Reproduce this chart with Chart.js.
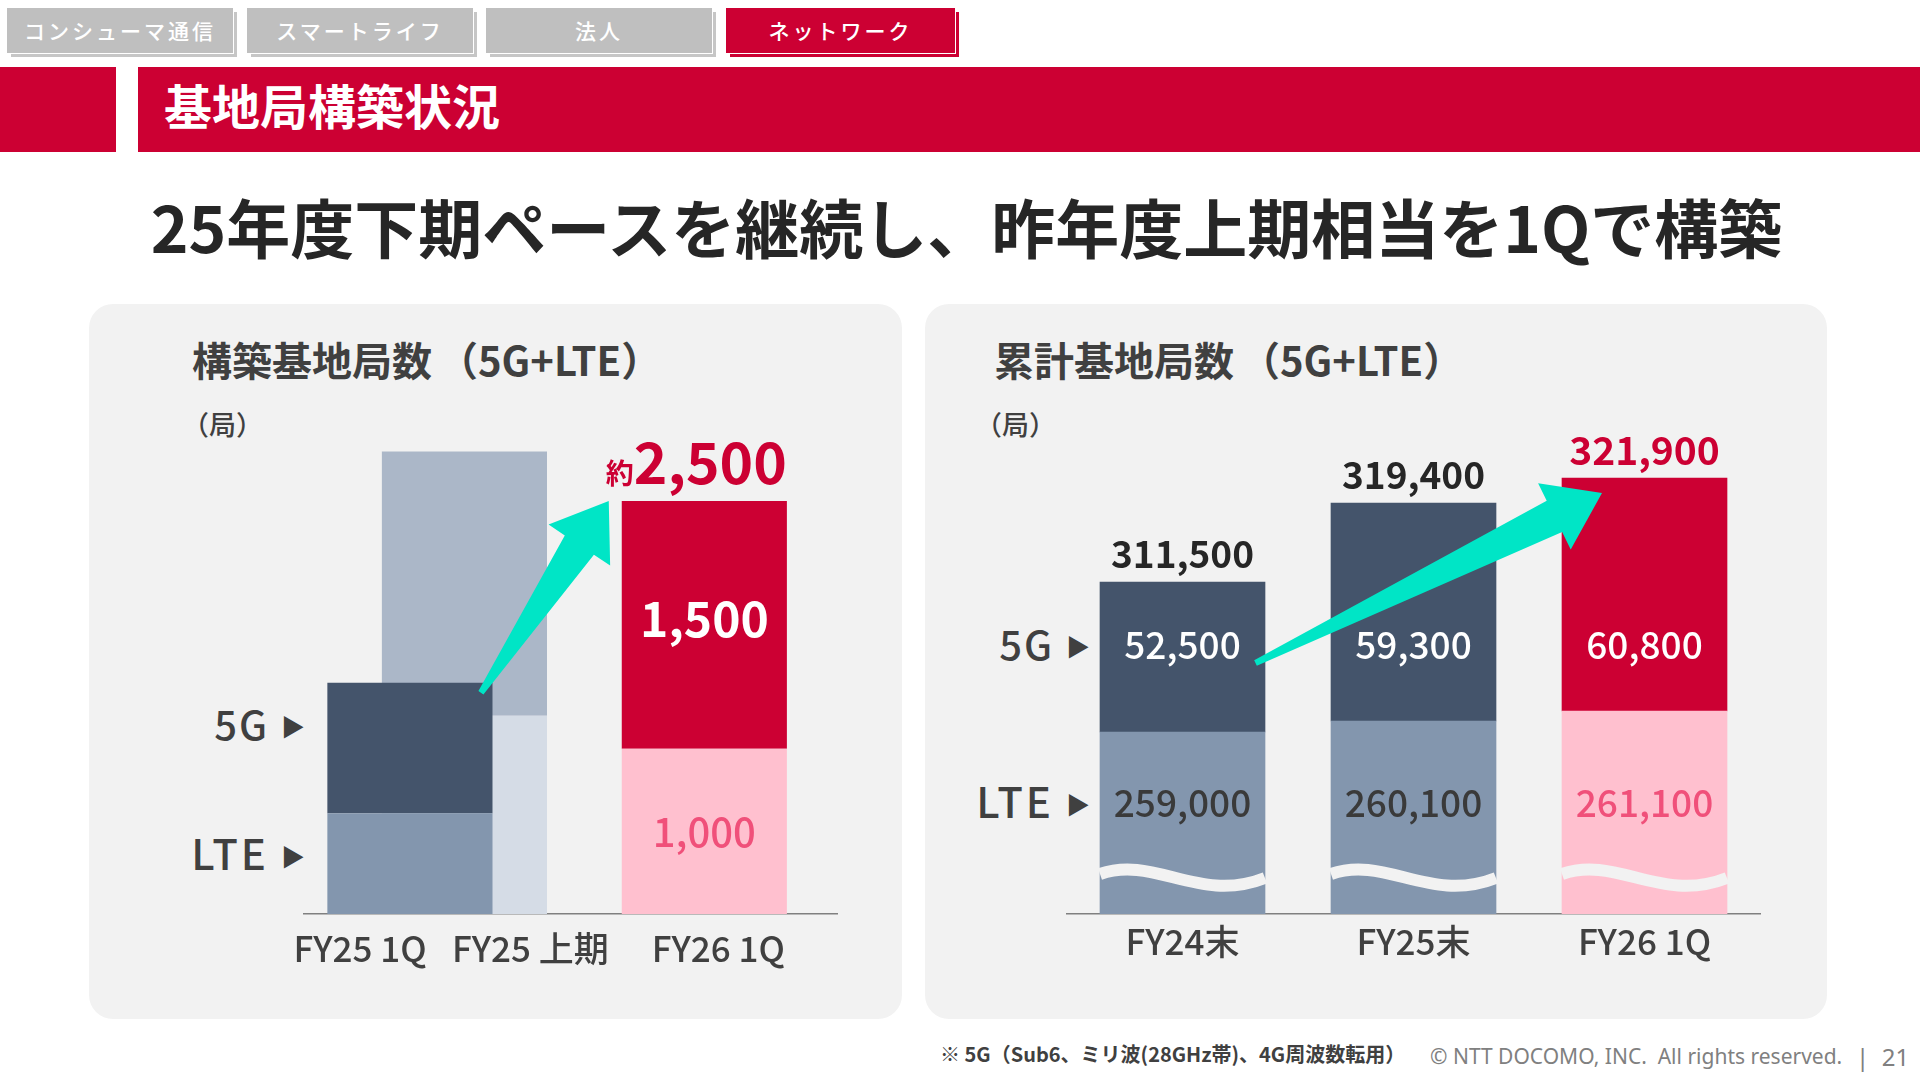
<!DOCTYPE html>
<html><head><meta charset="utf-8">
<script src="https://cdn.jsdelivr.net/npm/chart.js@4.4.1/dist/chart.umd.min.js"></script>
<style>
html,body{margin:0;padding:0;background:#fff;}
body{width:1920px;height:1080px;position:relative;overflow:hidden;font-family:"Noto Sans CJK JP","Noto Sans",sans-serif;}
.t{position:absolute;white-space:nowrap;line-height:1;}
.tab{position:absolute;top:8px;height:45px;width:226px;background:#bfbfbf;color:#fff;font-size:21px;letter-spacing:3px;text-align:center;line-height:45px;box-shadow:1px 1px 0 #fff,4px 4px 0 #c6c6c6;font-weight:500;}
.tab.on{background:#cc0033;box-shadow:1px 1px 0 #fff,4px 4px 0 #cc0033;width:229px;}
.red{position:absolute;background:#cc0033;}
.panel{position:absolute;background:#f2f2f2;border-radius:24px;}
.chartbox{position:absolute;}
.lab{position:absolute;white-space:nowrap;line-height:1;color:#404040;font-weight:500;text-align:right;font-size:40px;}
.lab .g{letter-spacing:2px;}
.lab .l{letter-spacing:3px;font-size:42px;}
.lab .tri{font-size:24px;margin-left:12px;position:relative;top:-4px;letter-spacing:0;}
</style>
</head><body>
<div class="tab" style="left:7px">コンシューマ通信</div>
<div class="tab" style="left:247px">スマートライフ</div>
<div class="tab" style="left:486px">法人</div>
<div class="tab on" style="left:726px">ネットワーク</div>

<div class="red" style="left:0;top:67px;width:116px;height:85px"></div>
<div class="red" style="left:138px;top:67px;width:1782px;height:85px"></div>
<div class="t" style="left:164px;top:80px;font-size:48px;font-weight:700;color:#fff">基地局構築状況</div>

<div class="t" style="left:0;width:1933px;text-align:center;top:193px;font-size:64px;font-weight:700;color:#262626">25年度下期ペースを継続し、昨年度上期相当を1Qで構築</div>

<div class="panel" style="left:89px;top:304px;width:813px;height:715px"></div>
<div class="panel" style="left:925px;top:304px;width:902px;height:715px"></div>

<div class="t" style="left:192px;top:339px;font-size:40px;font-weight:700;color:#404040">構築基地局数<span style="margin-left:6px">（5G+LTE）</span></div>
<div class="t" style="left:994px;top:339px;font-size:40px;font-weight:700;color:#404040">累計基地局数<span style="margin-left:6px">（5G+LTE）</span></div>
<div class="t" style="left:182px;top:410px;font-size:27px;font-weight:500;color:#404040">（局）</div>
<div class="t" style="left:975px;top:410px;font-size:27px;font-weight:500;color:#404040">（局）</div>

<div class="lab" style="right:1615px;top:703px"><span class="g">5G</span><span class="tri">▶</span></div>
<div class="lab" style="right:1615px;top:831px"><span class="l">LTE</span><span class="tri">▶</span></div>
<div class="lab" style="right:830px;top:623px"><span class="g">5G</span><span class="tri">▶</span></div>
<div class="lab" style="right:830px;top:779px"><span class="l">LTE</span><span class="tri">▶</span></div>

<div class="chartbox" style="left:89px;top:304px;width:813px;height:715px"><canvas id="c1"></canvas></div>
<div class="chartbox" style="left:925px;top:304px;width:902px;height:715px"><canvas id="c2"></canvas></div>

<div class="t" style="left:940px;top:1044px;font-size:20px;font-weight:700;color:#404040">※ 5G（Sub6、ミリ波(28GHz帯)、4G周波数転用）</div>
<div class="t" style="left:1430px;top:1046px;font-size:21px;color:#808080;font-family:'Noto Sans',sans-serif">© NTT DOCOMO, INC.&nbsp; All rights reserved.</div>
<div class="t" style="left:1856px;top:1045px;font-size:24px;color:#808080;font-family:'Noto Sans',sans-serif">|&nbsp; 21</div>

<script>
// ---------- data ----------
const leftCategories = ['FY25 1Q', 'FY25 上期', 'FY26 1Q'];
const leftLTE = [610, 1200, 1000];
const left5G = [790, 1600, 1500];

const rightCategories = ['FY24末', 'FY25末', 'FY26 1Q'];
const rightLTE = [259000, 260100, 261100];
const right5G = [52500, 59300, 60800];
const rightTotal = [311500, 319400, 321900];

// axis-break offsets used by the (broken-axis) cumulative chart
const LTE_AXIS_BREAK = 240800;
const G5_AXIS_BREAK = 37500;

const FONT = '"Noto Sans CJK JP"';
Chart.defaults.font.family = FONT;
const fmt = v => v.toLocaleString('en-US');
const TEAL = '#00e5c6';

function drawArrow(ctx, tx, ty, px, py) {
  const dx = px - tx, dy = py - ty, len = Math.hypot(dx, dy);
  const ux = dx / len, uy = dy / len, nx = -uy, ny = ux;
  const HL = 53, HW = 37, SW = 17.5, TW = 3;
  const bx = px - ux * HL, by = py - uy * HL;
  ctx.save();
  ctx.fillStyle = TEAL;
  ctx.beginPath();
  ctx.moveTo(tx + nx * TW, ty + ny * TW);
  ctx.lineTo(bx + nx * SW, by + ny * SW);
  ctx.lineTo(bx + nx * HW, by + ny * HW);
  ctx.lineTo(px, py);
  ctx.lineTo(bx - nx * HW, by - ny * HW);
  ctx.lineTo(bx - nx * SW, by - ny * SW);
  ctx.lineTo(tx - nx * TW, ty - ny * TW);
  ctx.closePath();
  ctx.fill();
  ctx.restore();
}

// ---------- left chart: 構築基地局数 ----------
const leftAxisLabels = [leftCategories[0] + '\u2002 ' + leftCategories[1], leftCategories[2]];
const GP = 0.408, BP_PAIR = 3.03, BP_ONE = 1.515;
function leftDs(label, data, color, stack, bp) {
  return { label, data, backgroundColor: color, stack, skipNull: true,
           categoryPercentage: GP, barPercentage: bp, borderWidth: 0 };
}
const leftDatasets = [
  leftDs('FY25 1Q LTE', [leftLTE[0], null], '#8396ae', 'q1', BP_PAIR),
  leftDs('FY25 1Q 5G', [left5G[0], null], '#44546b', 'q1', BP_PAIR),
  leftDs('FY25 上期 LTE', [leftLTE[1], null], '#d5dce6', 'h1', BP_PAIR),
  leftDs('FY25 上期 5G', [left5G[1], null], '#abb7c8', 'h1', BP_PAIR),
  leftDs('FY26 1Q LTE', [null, leftLTE[2]], '#ffc0cf', 'fy26', BP_ONE),
  leftDs('FY26 1Q 5G', [null, left5G[2]], '#cc0033', 'fy26', BP_ONE)
];

const leftDecor = {
  id: 'leftDecor',
  afterDatasetsDraw(chart) {
    const ctx = chart.ctx;
    const q15 = chart.getDatasetMeta(1).data[0];
    const f26L = chart.getDatasetMeta(4).data[1];
    const f265 = chart.getDatasetMeta(5).data[1];
    drawArrow(ctx, q15.x + 71, q15.y + 10, f265.x - f265.width / 2 - 13, f265.y);
    ctx.save();
    ctx.textAlign = 'center';
    ctx.textBaseline = 'middle';
    ctx.fillStyle = '#ffffff';
    ctx.font = `700 48px ${FONT}`;
    ctx.fillText(fmt(left5G[2]), f265.x, (f265.y + f265.base) / 2 - 6);
    ctx.fillStyle = '#f0507a';
    ctx.font = `500 40px ${FONT}`;
    ctx.fillText(fmt(leftLTE[2]), f26L.x, (f26L.y + f26L.base) / 2);
    // total
    const total = leftLTE[2] + left5G[2];
    ctx.textAlign = 'left';
    ctx.textBaseline = 'alphabetic';
    ctx.font = `700 28px ${FONT}`;
    const w1 = ctx.measureText('約').width;
    ctx.font = `700 57px ${FONT}`;
    const w2 = ctx.measureText(fmt(total)).width;
    const sx = f265.x - (w1 + w2) / 2 - 8;
    const by = f265.y - 17;
    ctx.fillStyle = '#cc0033';
    ctx.font = `700 28px ${FONT}`;
    ctx.fillText('約', sx, by);
    ctx.font = `700 57px ${FONT}`;
    ctx.fillText(fmt(total), sx + w1, by);
    ctx.restore();
  }
};

new Chart(document.getElementById('c1'), {
  type: 'bar',
  data: { labels: leftAxisLabels, datasets: leftDatasets },
  plugins: [leftDecor],
  options: {
    responsive: true, maintainAspectRatio: false, animation: false,
    layout: { padding: { left: 214.6, right: 64.1, top: 114.4, bottom: 45 } },
    plugins: { legend: { display: false }, tooltip: { enabled: false } },
    scales: {
      x: {
        stacked: true, offset: true,
        grid: { display: false, drawTicks: false },
        border: { display: true, color: '#808080', width: 1.5 },
        ticks: { color: '#404040', font: { size: 35, weight: 500 }, padding: 14,
                 labelOffset: 14, autoSkip: false, maxRotation: 0, minRotation: 0 },
        afterFit: s => { s.height = 60; }
      },
      y: { stacked: true, display: false, min: 0, max: 3000 }
    }
  }
});

// ---------- right chart: 累計基地局数 ----------
const rightLTEPlot = rightLTE.map(v => v - LTE_AXIS_BREAK);
const right5GPlot = right5G.map(v => v - G5_AXIS_BREAK);

const rightDecor = {
  id: 'rightDecor',
  afterDatasetsDraw(chart) {
    const ctx = chart.ctx, area = chart.chartArea;
    const lteEls = chart.getDatasetMeta(0).data;
    const g5Els = chart.getDatasetMeta(1).data;
    ctx.save();
    // break waves
    lteEls.forEach(el => {
      const l = el.x - el.width / 2, r = el.x + el.width / 2, w = r - l, yb = el.base - 40;
      ctx.beginPath();
      ctx.moveTo(l, yb);
      ctx.bezierCurveTo(l + 0.33 * w, yb - 19, l + 0.6 * w, yb + 30, r, yb + 4);
      ctx.lineWidth = 12;
      ctx.strokeStyle = '#f2f2f2';
      ctx.stroke();
    });
    ctx.restore();
    drawArrow(ctx, g5Els[0].x + 73, area.bottom - 251, g5Els[2].x - g5Els[2].width / 2 + 40, g5Els[2].y + 15);
    ctx.save();
    ctx.textAlign = 'center';
    ctx.textBaseline = 'middle';
    const totColors = ['#262626', '#262626', '#cc0033'];
    const lteColors = ['#3a3a3a', '#3a3a3a', '#f0507a'];
    g5Els.forEach((el, i) => {
      ctx.fillStyle = totColors[i];
      ctx.font = `700 ${i === 2 ? 39 : 37}px ${FONT}`;
      ctx.fillText(fmt(rightTotal[i]), el.x, el.y - 28);
      ctx.fillStyle = '#ffffff';
      ctx.font = `500 37px ${FONT}`;
      ctx.fillText(fmt(right5G[i]), el.x, area.bottom - 269);
      ctx.fillStyle = lteColors[i];
      ctx.fillText(fmt(rightLTE[i]), el.x, area.bottom - 111);
    });
    ctx.restore();
  }
};

new Chart(document.getElementById('c2'), {
  type: 'bar',
  data: {
    labels: rightCategories,
    datasets: [
      { label: 'LTE', data: rightLTEPlot, backgroundColor: ['#8396ae', '#8396ae', '#ffc0cf'], barThickness: 165, borderWidth: 0 },
      { label: '5G', data: right5GPlot, backgroundColor: ['#44546b', '#44546b', '#cc0033'], barThickness: 165, borderWidth: 0 }
    ]
  },
  plugins: [rightDecor],
  options: {
    responsive: true, maintainAspectRatio: false, animation: false,
    layout: { padding: { left: 142, right: 67, top: 160, bottom: 45 } },
    plugins: { legend: { display: false }, tooltip: { enabled: false } },
    scales: {
      x: {
        stacked: true, offset: true,
        grid: { display: false, drawTicks: false },
        border: { display: true, color: '#808080', width: 1.5 },
        ticks: { color: '#404040', font: { size: 35, weight: 500 }, padding: 7,
                 autoSkip: false, maxRotation: 0, minRotation: 0 },
        afterFit: s => { s.height = 60; }
      },
      y: { stacked: true, display: false, min: 0, max: 45000 }
    }
  }
});
</script>
</body></html>
